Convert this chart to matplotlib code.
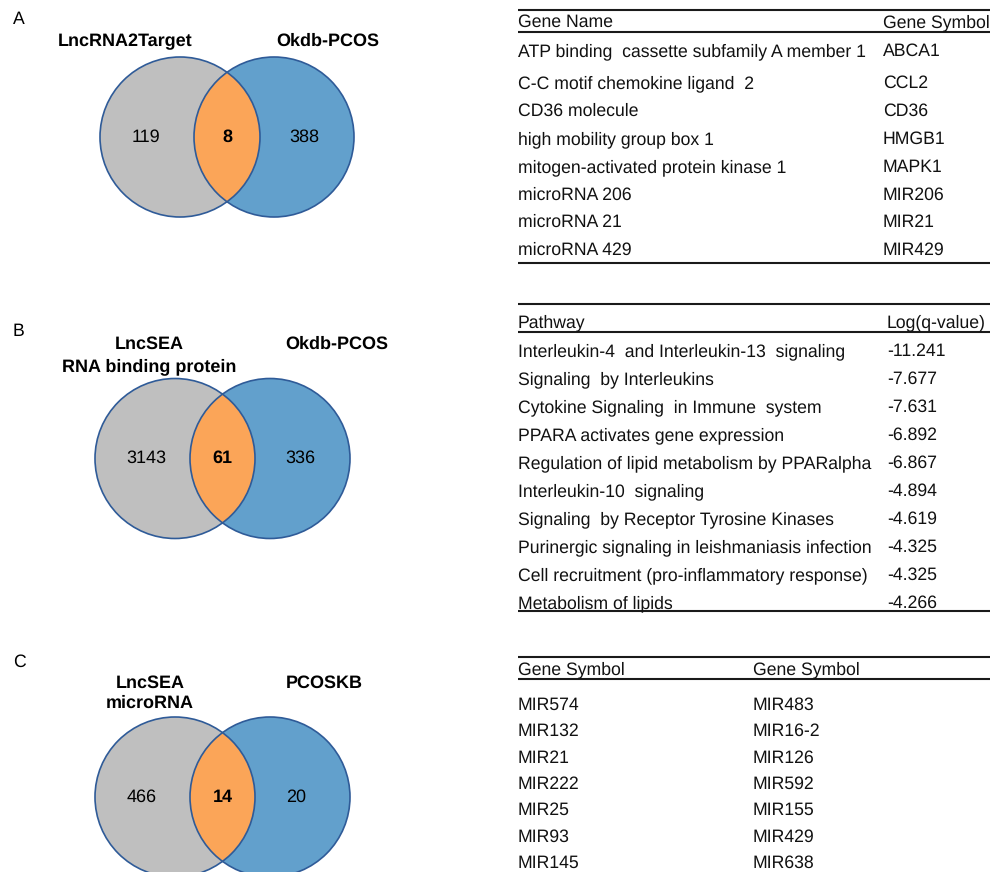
import matplotlib
matplotlib.use('Agg')
import matplotlib.pyplot as plt
from matplotlib.patches import Circle

plt.rcParams['font.family'] = ['Liberation Sans', 'DejaVu Sans']
plt.rcParams['text.hinting'] = 'no_hinting'

# Venn panels: overlap counts
panel_letters = ['A', 'B', 'C']
left_sets = ['LncRNA2Target', 'LncSEA\nRNA binding protein', 'LncSEA\nmicroRNA']
right_sets = ['Okdb-PCOS', 'Okdb-PCOS', 'PCOSKB']
left_only = [119, 3143, 466]
shared = [8, 61, 14]
right_only = [388, 336, 20]

# Table A: shared lncRNA2Target / Okdb genes
genes_a_header = ['Gene Name', 'Gene Symbol']
genes_a_name = ['ATP binding  cassette subfamily A member 1',
                'C-C motif chemokine ligand  2',
                'CD36 molecule',
                'high mobility group box 1',
                'mitogen-activated protein kinase 1',
                'microRNA 206',
                'microRNA 21',
                'microRNA 429']
genes_a_symbol = ['ABCA1', 'CCL2', 'CD36', 'HMGB1', 'MAPK1', 'MIR206', 'MIR21', 'MIR429']

# Table B: pathway enrichment of the RBP overlap
pathway_header = ['Pathway', 'Log(q-value)']
pathways = ['Interleukin-4  and Interleukin-13  signaling',
            'Signaling  by Interleukins',
            'Cytokine Signaling  in Immune  system',
            'PPARA activates gene expression',
            'Regulation of lipid metabolism by PPARalpha',
            'Interleukin-10  signaling',
            'Signaling  by Receptor Tyrosine Kinases',
            'Purinergic signaling in leishmaniasis infection',
            'Cell recruitment (pro-inflammatory response)',
            'Metabolism of lipids']
log_q = [-11.241, -7.677, -7.631, -6.892, -6.867, -4.894, -4.619, -4.325, -4.325, -4.266]

# Table C: shared microRNAs
mir_header = ['Gene Symbol', 'Gene Symbol']
mir_col1 = ['MIR574', 'MIR132', 'MIR21', 'MIR222', 'MIR25', 'MIR93', 'MIR145']
mir_col2 = ['MIR483', 'MIR16-2', 'MIR126', 'MIR592', 'MIR155', 'MIR429', 'MIR638']

GRAY = '#BFBFBF'
BLUE = '#62A0CC'
ORANGE = '#FBA558'
EDGE = '#2F5B98'
FS = 12.7

fig = plt.figure(figsize=(9.9, 8.72), dpi=100)
ax = fig.add_axes([0, 0, 1, 1])
ax.set_xlim(0, 990)
ax.set_ylim(872, 0)
ax.axis('off')


def venn(i, cx_l, cx_r, cy, letter_xy, left_title_x, right_title_x, title_y,
         line_gap, num_x, r=80):
    left = Circle((cx_l, cy), r, facecolor=GRAY, edgecolor='none', zorder=1)
    right = Circle((cx_r, cy), r, facecolor=BLUE, edgecolor='none', zorder=1)
    ax.add_patch(left)
    ax.add_patch(right)
    # overlap: right circle refilled in orange, clipped to the left one
    lens = Circle((cx_r, cy), r, facecolor=ORANGE, edgecolor='none', zorder=2)
    ax.add_patch(lens)
    lens.set_clip_path(left)
    for cx in (cx_l, cx_r):
        ax.add_patch(Circle((cx, cy), r, facecolor='none', edgecolor=EDGE,
                            linewidth=1.2, zorder=3))

    ax.text(letter_xy[0], letter_xy[1], panel_letters[i], fontsize=FS,
            ha='center', va='center')
    for k, line in enumerate(left_sets[i].split('\n')):
        ax.text(left_title_x, title_y + k * line_gap, line, fontsize=13,
                fontweight='bold', ha='center', va='center')
    ax.text(right_title_x, title_y, right_sets[i], fontsize=13,
            fontweight='bold', ha='center', va='center')

    mid = (cx_l + cx_r) / 2
    ax.text(num_x[0], cy, str(left_only[i]), fontsize=13, ha='center', va='center', zorder=4)
    ax.text(mid, cy, str(shared[i]), fontsize=13, fontweight='bold',
            ha='center', va='center', zorder=4)
    ax.text(num_x[1], cy, str(right_only[i]), fontsize=13, ha='center', va='center', zorder=4)


venn(0, 180, 274, 137, (19, 19), 125, 327.5, 41.5, 0, (146, 304.5))
venn(1, 175, 270, 458.5, (18, 331), 149.5, 336.5, 344.5, 22.3, (146, 300.5))
venn(2, 175, 270, 797, (19, 662), 150, 324, 683.5, 20, (141.5, 296))


def rule(y, lw=1.5):
    ax.plot([518, 990], [y, y], color='#1a1a1a', linewidth=lw,
            solid_capstyle='butt', zorder=3)


def cell(x, yc, s):
    # yc is the cap-height centre of the row
    ax.text(x, yc + 6.2, s, fontsize=FS, ha='left', va='baseline', color='#111111')


# Table A
rule(10)
rule(32.3)
rule(263.3)
cell(518, 21, genes_a_header[0])
cell(883, 21, genes_a_header[1])
rows_a = [50, 81.7, 110, 137.7, 165.7, 193.3, 221, 248.3]
for y, name, sym in zip(rows_a, genes_a_name, genes_a_symbol):
    cell(518, y, name)
    cell(883, y, sym)

# Table B
rule(304)
rule(331.7)
rule(611)
cell(518, 321, pathway_header[0])
cell(887, 321, pathway_header[1])
for k, (name, q) in enumerate(zip(pathways, log_q)):
    y = 350 + 28 * k
    cell(518, y, name)
    cell(887, y, f'{q:.3f}')

# Table C
rule(656.7)
rule(679.3)
cell(518, 668, mir_header[0])
cell(753, 668, mir_header[1])
for k, (a, b) in enumerate(zip(mir_col1, mir_col2)):
    y = 703.5 + 26.4 * k
    cell(518, y, a)
    cell(753, y, b)

fig.savefig('out.png', dpi=100)
plt.close(fig)
